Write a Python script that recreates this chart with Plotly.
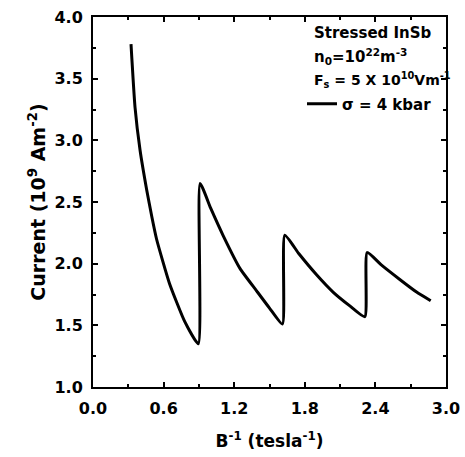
import plotly.graph_objects as go

# Data (B^-1 in tesla^-1, current in 1e9 A m^-2)
seg1_x = [0.323, 0.357, 0.40, 0.456, 0.50, 0.54, 0.65, 0.78, 0.895]
seg1_y = [3.78, 3.27, 2.92, 2.60, 2.38, 2.20, 1.84, 1.53, 1.35]
seg2_x = [0.91, 1.00, 1.105, 1.25, 1.39, 1.50, 1.61]
seg2_y = [2.65, 2.45, 2.23, 1.96, 1.78, 1.64, 1.51]
seg3_x = [1.63, 1.75, 1.90, 2.04, 2.18, 2.31]
seg3_y = [2.23, 2.08, 1.91, 1.77, 1.66, 1.57]
seg4_x = [2.33, 2.45, 2.61, 2.75, 2.87]
seg4_y = [2.09, 1.99, 1.87, 1.77, 1.70]

x = seg1_x + seg2_x + seg3_x + seg4_x
y = seg1_y + seg2_y + seg3_y + seg4_y

xticks = [0.0, 0.6, 1.2, 1.8, 2.4, 3.0]
yticks = [1.0, 1.5, 2.0, 2.5, 3.0, 3.5, 4.0]

FONT = "DejaVu Sans, Liberation Sans, Arial, sans-serif"

fig = go.Figure()
fig.add_trace(go.Scatter(
    x=x, y=y, mode="lines",
    line=dict(color="black", width=3, shape="spline", smoothing=0.5),
    name="σ = 4 kbar", showlegend=True,
))

axis_common = dict(
    showline=True, linecolor="black", linewidth=2, mirror="allticks",
    ticks="inside", ticklen=5, tickwidth=2, tickcolor="black",
    showgrid=False, zeroline=False, automargin=False,
    tickfont=dict(family=FONT, size=16, color="black", weight="bold"),
)

L, R, T, B = 93, 19, 17, 70
W, H = 465, 457
PW, PH = W - L - R, H - T - B

fig.update_layout(
    width=W, height=H,
    margin=dict(l=L, r=R, t=T, b=B),
    paper_bgcolor="white", plot_bgcolor="white",
    font=dict(family=FONT, color="black"),
    xaxis=dict(
        range=[0, 3.0], tickvals=xticks, ticktext=[f"{v:.1f}" for v in xticks],
        minor=dict(dtick=0.3, ticks="inside", ticklen=3, tickwidth=2, tickcolor="black"),
        title=dict(text="B<sup>-1</sup> (tesla<sup>-1</sup>)",
                   font=dict(family=FONT, size=17, color="black", weight="bold"), standoff=18),
        ticklabelstandoff=6,
        **axis_common,
    ),
    yaxis=dict(
        range=[1.0, 4.0], tickvals=yticks, ticktext=[f"{v:.1f}" for v in yticks],
        minor=dict(dtick=0.25, ticks="inside", ticklen=3, tickwidth=2, tickcolor="black"),
        title=dict(text="Current (10<sup>9</sup> Am<sup>-2</sup>)",
                   font=dict(family=FONT, size=19, color="black", weight="bold"), standoff=4),
        ticklabelstandoff=5,
        **axis_common,
    ),
    legend=dict(
        x=(302 - L) / PW, y=1 - (104 - T) / PH, xanchor="left", yanchor="middle",
        bgcolor="rgba(0,0,0,0)", borderwidth=0,
        font=dict(family=FONT, size=15, color="black", weight="bold"),
        itemwidth=30, tracegroupgap=0,
    ),
)

texts = [
    ("Stressed InSb", 33, 15),
    ("n<sub>0</sub>=10<sup>22</sup>m<sup>-3</sup>", 56, 15),
    ("F<sub>s</sub> = 5 X 10<sup>10</sup>Vm<sup>-1</sup>", 80, 14),
]
for t, ypx, fs in texts:
    fig.add_annotation(
        text=t, xref="paper", yref="paper",
        x=(312 - L) / PW, y=1 - (ypx - T) / PH,
        xanchor="left", yanchor="middle", showarrow=False,
        font=dict(family=FONT, size=fs, color="black", weight="bold"),
    )

fig.write_html("out.html")
